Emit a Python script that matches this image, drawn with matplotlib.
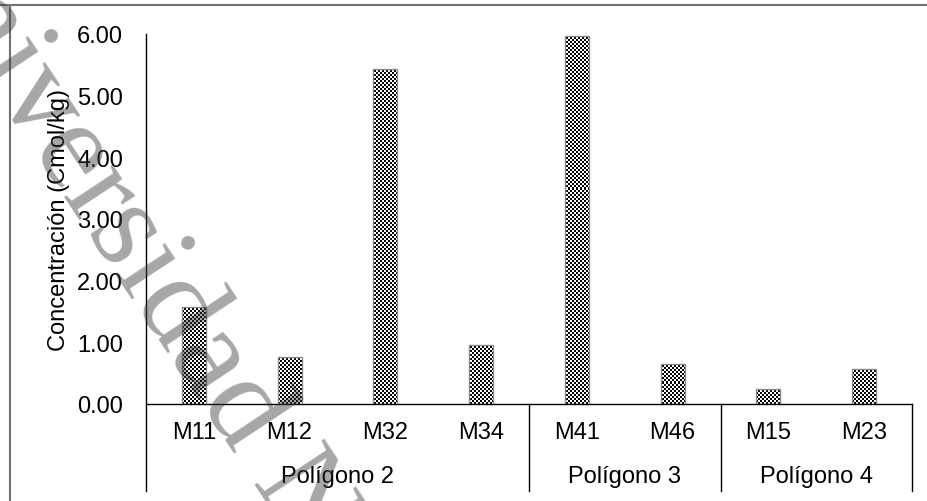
import numpy as np
import matplotlib
matplotlib.use("Agg")
import matplotlib.pyplot as plt
from matplotlib.transforms import blended_transform_factory
from matplotlib.lines import Line2D
from matplotlib.font_manager import FontProperties

# --- data ---
muestras = ["M11", "M12", "M32", "M34", "M41", "M46", "M15", "M23"]
concentracion = [1.57, 0.77, 5.43, 0.95, 5.97, 0.65, 0.24, 0.56]
poligonos = ["Polígono 2", "Polígono 3", "Polígono 4"]
muestras_por_poligono = [4, 2, 2]
yticks = [0, 1, 2, 3, 4, 5, 6]

W, H, DPI = 928, 502, 100
FS = 17
plt.rcParams["font.family"] = ["Liberation Sans", "DejaVu Sans"]

fig = plt.figure(figsize=(W / DPI, H / DPI), dpi=DPI)
fig.patch.set_facecolor("white")

# axes placed in pixel units
x0, x1, ytop, ybot = 146, 912, 35, 405
ax = fig.add_axes([x0 / W, (H - ybot) / H, (x1 - x0) / W, (ybot - ytop) / H])

n = len(muestras)
x = np.arange(n)
ax.set_xlim(-0.5, n - 0.5)
ax.set_ylim(0, 6)

bars = ax.bar(x, concentracion, width=0.25, facecolor="none",
              edgecolor="#8c8c8c", linewidth=1.0, zorder=3)

# checkerboard fill, 2 px cells, clipped to each bar
pw, ph = (x1 - x0) // 2, (ybot - ytop) // 2
ii, jj = np.indices((ph, pw))
checker = ((ii + jj) % 2).astype(float)
for b in bars:
    im = ax.imshow(checker, cmap="gray", vmin=0, vmax=1, interpolation="nearest",
                   extent=(-0.5, n - 0.5, 0, 6), aspect="auto", zorder=2)
    im.set_clip_path(b)

ax.set_yticks(yticks)
ax.set_yticklabels([f"{v:.2f}" for v in yticks], fontsize=FS)
ax.tick_params(axis="y", length=0, pad=16.5)
ax.set_xticks([])
for s in ["top", "right"]:
    ax.spines[s].set_visible(False)
ax.spines["left"].set_visible(False)
ax.spines["bottom"].set_linewidth(1.0)

ax.set_ylabel("Concentración (Cmol/kg)", fontsize=FS)
ax.yaxis.set_label_coords(-0.099, 0.5)

# two-level category axis
tr = blended_transform_factory(ax.transData, ax.transAxes)
to_ax = lambda py: (ybot - py) / (ybot - ytop)
for xi, m in zip(x, muestras):
    ax.text(xi, to_ax(433), m, transform=tr, ha="center", va="center", fontsize=FS)

bounds = np.concatenate([[0], np.cumsum(muestras_por_poligono)]) - 0.5
for i, p in enumerate(poligonos):
    cx = (bounds[i] + bounds[i + 1]) / 2
    ax.text(cx, to_ax(477), p, transform=tr, ha="center", va="center", fontsize=FS)
for i, b in enumerate(bounds):
    top = 1.0 if i == 0 else 0.0
    ax.add_line(Line2D([b, b], [to_ax(492), top], transform=tr, color="black",
                       linewidth=1.0, clip_on=False))

# chart-area frame
fig.add_artist(Line2D([0, 1], [1 - 6 / H, 1 - 6 / H], transform=fig.transFigure,
                      color="#707070", linewidth=1.5))
fig.add_artist(Line2D([10 / W, 10 / W], [0, 1 - 6 / H], transform=fig.transFigure,
                      color="#707070", linewidth=1.5))

# watermark: diagonal serif text; the dot of the first "i" is pinned to a pixel spot
wm_text = "Universidad Nacional"
wm_family = ["Liberation Serif", "DejaVu Serif"]
renderer = fig.canvas.get_renderer()


def adv(s, size):
    prop = FontProperties(family=wm_family, size=size)
    w, _, _ = renderer.get_text_width_height_descent(s, prop, ismath=False)
    return w


wm_size = 92
em = wm_size * DPI / 72.0
ang = np.deg2rad(56.5)
along = np.array([np.cos(ang), np.sin(ang)])     # pixels, y downward
up = np.array([np.sin(ang), -np.cos(ang)])
dot_spot = np.array([52.0, 36.0])
start = dot_spot - (adv("Un", wm_size) + 0.14 * em) * along - 0.62 * em * up

fig.text(start[0] / W, 1 - start[1] / H, wm_text, fontsize=wm_size,
         family=wm_family, color="#3c3c3c", alpha=0.45,
         rotation=-np.rad2deg(ang), rotation_mode="anchor",
         ha="left", va="baseline", zorder=10)

fig.savefig("out.png", dpi=DPI, facecolor="white")
